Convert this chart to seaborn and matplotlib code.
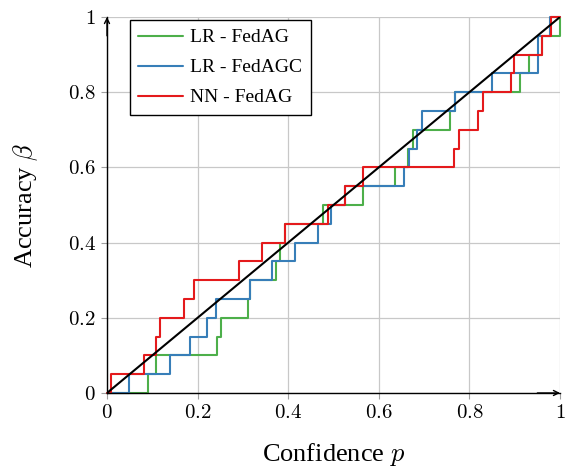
import matplotlib
matplotlib.use('Agg')
import matplotlib.pyplot as plt
import seaborn as sns

# accuracy levels reached after each step (one step per 0.05)
accuracy_levels = [0.0, 0.05, 0.10, 0.15, 0.20, 0.25, 0.30, 0.35, 0.40, 0.45, 0.50,
                   0.55, 0.60, 0.65, 0.70, 0.75, 0.80, 0.85, 0.90, 0.95, 1.0]

# confidence where each curve jumps to the matching accuracy level
lr_fedag = [0.0, 0.090, 0.109, 0.242, 0.251, 0.312, 0.316, 0.372, 0.383, 0.394, 0.476,
            0.565, 0.636, 0.665, 0.676, 0.758, 0.768, 0.911, 0.932, 0.960, 1.0]
lr_fedagc = [0.0, 0.048, 0.139, 0.183, 0.221, 0.240, 0.316, 0.365, 0.414, 0.466, 0.494,
             0.526, 0.655, 0.667, 0.684, 0.696, 0.768, 0.850, 0.952, 0.952, 0.978]
nn_fedag = [0.0, 0.008, 0.081, 0.109, 0.117, 0.169, 0.191, 0.292, 0.343, 0.394, 0.487,
            0.526, 0.565, 0.765, 0.776, 0.818, 0.829, 0.891, 0.899, 0.960, 0.980]

series_names = ['LR - FedAG', 'LR - FedAGC', 'NN - FedAG']
series_colors = ['#4daf4a', '#377eb8', '#e41a1c']

tick_values = [0, 0.2, 0.4, 0.6, 0.8, 1]
tick_labels = ['0', '0.2', '0.4', '0.6', '0.8', '1']

sns.set_style('whitegrid', {'grid.color': '#c8c8c8', 'axes.edgecolor': 'black',
                            'text.color': 'black', 'axes.labelcolor': 'black',
                            'xtick.color': 'black', 'ytick.color': 'black'})
plt.rcParams['font.family'] = ['Liberation Serif', 'DejaVu Serif']
plt.rcParams['mathtext.fontset'] = 'cm'

fig, ax = plt.subplots(figsize=(5.74, 4.68), dpi=100)
fig.subplots_adjust(left=0.1864, right=0.9756, bottom=0.1603, top=0.9637)

for conf, name, color in zip([lr_fedag, lr_fedagc, nn_fedag], series_names, series_colors):
    sns.lineplot(x=conf + [1.0], y=accuracy_levels + [1.0], drawstyle='steps-post',
                 estimator=None, sort=False, color=color, lw=1.5, label=name,
                 ax=ax, clip_on=False, zorder=3)

ax.plot([0, 1], [0, 1], color='black', lw=1.5, zorder=4)

ax.set_xlim(0, 1)
ax.set_ylim(0, 1)
ax.set_xticks(tick_values)
ax.set_yticks(tick_values)
ax.set_xticklabels([f'${t}$' for t in tick_labels])
ax.set_yticklabels([f'${t}$' for t in tick_labels])
ax.tick_params(bottom=True, left=True, direction='out', length=4, width=0.8,
               color='#a0a0a0', labelcolor='black', labelsize=15, pad=4)
ax.grid(True, color='#c8c8c8', lw=0.9)

for side in ['top', 'right']:
    ax.spines[side].set_visible(False)
for side in ['left', 'bottom']:
    ax.spines[side].set_color('black')
    ax.spines[side].set_linewidth(1.0)
    ax.spines[side].set_zorder(5)

ax.annotate('', xy=(1.0, 0), xytext=(0.95, 0), xycoords='axes fraction',
            arrowprops=dict(arrowstyle='->', color='black', lw=1.0,
                            shrinkA=0, shrinkB=0, mutation_scale=9))
ax.annotate('', xy=(0, 1.0), xytext=(0, 0.95), xycoords='axes fraction',
            arrowprops=dict(arrowstyle='->', color='black', lw=1.0,
                            shrinkA=0, shrinkB=0, mutation_scale=9))

ax.set_xlabel('Confidence $p$', fontsize=19, labelpad=13, color='black')
ax.set_ylabel(r'Accuracy $\beta$', fontsize=19, labelpad=20, color='black')

leg = ax.legend(loc='upper left', bbox_to_anchor=(0.05, 0.992), fancybox=False,
                edgecolor='black', framealpha=1, fontsize=14, handlelength=2.27,
                handletextpad=0.4, labelspacing=0.64, borderpad=0.45, borderaxespad=0)
leg.get_frame().set_linewidth(1.0)
for txt in leg.get_texts():
    txt.set_color('black')

plt.savefig('out.png', dpi=100)
